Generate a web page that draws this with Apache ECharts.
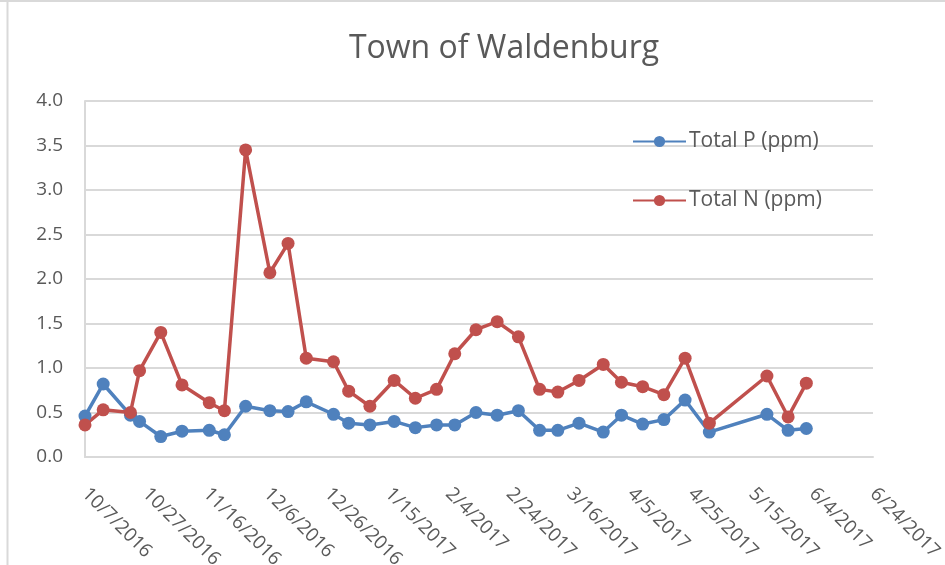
<!DOCTYPE html>
<html>
<head>
<meta charset="utf-8">
<script src="https://cdn.jsdelivr.net/npm/echarts@6/dist/echarts.min.js"></script>
<style>
  html, body { margin: 0; padding: 0; background: #fff; }
  #chart { width: 945px; height: 565px; }
</style>
</head>
<body>
<div id="chart"></div>
<script>
// sample dates (M/D/YYYY) and measured values
const sampleDates = [
  '10/7/2016', '10/13/2016', '10/22/2016', '10/25/2016', '11/1/2016', '11/8/2016',
  '11/17/2016', '11/22/2016', '11/29/2016', '12/7/2016', '12/13/2016', '12/19/2016',
  '12/28/2016', '1/2/2017', '1/9/2017', '1/17/2017', '1/24/2017', '1/31/2017',
  '2/6/2017', '2/13/2017', '2/20/2017', '2/27/2017', '3/6/2017', '3/12/2017',
  '3/19/2017', '3/27/2017', '4/2/2017', '4/9/2017', '4/16/2017', '4/23/2017',
  '5/1/2017', '5/20/2017', '5/27/2017', '6/2/2017'
]
const totalP = [
  0.46, 0.82, 0.47, 0.40, 0.23, 0.29, 0.30, 0.25, 0.57, 0.52, 0.51, 0.62,
  0.48, 0.38, 0.36, 0.40, 0.33, 0.36, 0.36, 0.50, 0.47, 0.52, 0.30, 0.30,
  0.38, 0.28, 0.47, 0.37, 0.42, 0.64, 0.28, 0.48, 0.30, 0.32
]
const totalN = [
  0.36, 0.53, 0.50, 0.97, 1.40, 0.81, 0.61, 0.52, 3.45, 2.07, 2.40, 1.11,
  1.07, 0.74, 0.57, 0.86, 0.66, 0.76, 1.16, 1.43, 1.52, 1.35, 0.76, 0.73,
  0.86, 1.04, 0.84, 0.79, 0.70, 1.11, 0.38, 0.91, 0.45, 0.83
]
const seriesNames = ['Total P (ppm)', 'Total N (ppm)']
const startDate = '10/7/2016'
const endDate = '6/24/2017'
const tickDays = 20

const DAY = 86400000
const toTime = s => {
  const [m, d, y] = s.split('/').map(Number)
  return Date.UTC(y, m - 1, d)
}
const t0 = toTime(startDate)
const dayOf = s => Math.round((toTime(s) - t0) / DAY)
const fmtDay = v => {
  const dt = new Date(t0 + v * DAY)
  return (dt.getUTCMonth() + 1) + '/' + dt.getUTCDate() + '/' + dt.getUTCFullYear()
}

const chart = echarts.init(document.getElementById('chart'))
const textColor = '#595959'
const gridColor = '#d9d9d9'
const font = 'Open Sans'

chart.setOption({
  animation: false,
  title: {
    text: 'Town of Waldenburg',
    left: 499,
    top: 28,
    textAlign: 'center',
    textStyle: { color: textColor, fontFamily: font, fontWeight: 'normal', fontSize: 32 }
  },
  // chart frame edges
  graphic: [
    { type: 'line', shape: { x1: 7.5, y1: 0, x2: 7.5, y2: 565 }, style: { stroke: gridColor, lineWidth: 2 } },
    { type: 'line', shape: { x1: 0, y1: 1, x2: 945, y2: 1 }, style: { stroke: gridColor, lineWidth: 2 } }
  ],
  legend: {
    orient: 'vertical',
    left: 627,
    top: 126,
    itemGap: 38,
    itemWidth: 53,
    itemHeight: 14,
    data: seriesNames,
    textStyle: { color: textColor, fontFamily: font, fontSize: 21, padding: [0, 0, 0, -2] }
  },
  grid: { left: 85, right: 72, top: 101, bottom: 108, outerBoundsMode: 'none' },
  xAxis: {
    type: 'value',
    min: 0,
    max: dayOf(endDate),
    interval: tickDays,
    axisLine: { lineStyle: { color: gridColor, width: 2 } },
    axisTick: { show: false },
    splitLine: { show: false },
    axisLabel: {
      rotate: -45,
      margin: 34,
      color: textColor,
      fontFamily: font,
      fontSize: 19,
      formatter: v => fmtDay(v)
    }
  },
  yAxis: {
    type: 'value',
    min: 0,
    max: 4,
    interval: 0.5,
    axisLine: { show: true, lineStyle: { color: gridColor, width: 2 } },
    axisTick: { show: false },
    splitLine: { lineStyle: { color: gridColor, width: 2 } },
    axisLabel: {
      margin: 22,
      color: textColor,
      fontFamily: font,
      fontSize: 19,
      formatter: v => v.toFixed(1)
    }
  },
  series: [{
    name: seriesNames[0],
    type: 'line',
    data: sampleDates.map((d, i) => [dayOf(d), totalP[i]]),
    symbol: 'circle',
    symbolSize: 13,
    itemStyle: { color: '#4f81bd' },
    lineStyle: { color: '#4f81bd', width: 3.5 }
  }, {
    name: seriesNames[1],
    type: 'line',
    data: sampleDates.map((d, i) => [dayOf(d), totalN[i]]),
    symbol: 'circle',
    symbolSize: 13,
    itemStyle: { color: '#c0504d' },
    lineStyle: { color: '#c0504d', width: 3.5 }
  }]
})
</script>
</body>
</html>
